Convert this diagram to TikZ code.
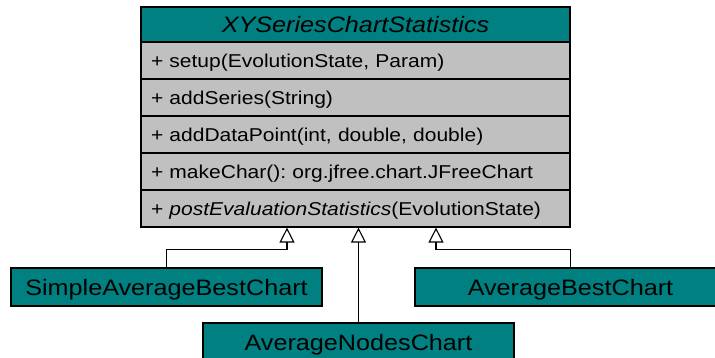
\documentclass[tikz,border=0pt]{standalone}
\usepackage{fontspec}
\setmainfont{Liberation Sans}[FakeStretch=1.13]
\usetikzlibrary{arrows.meta}
\definecolor{classteal}{RGB}{0,128,128}
\definecolor{rowgray}{RGB}{192,192,192}
\frenchspacing

\begin{document}
\begin{tikzpicture}[x=1pt,y=-1pt,
  head/.style={draw, fill=classteal, line width=1.2pt, minimum width=429pt, minimum height=35pt, inner sep=0pt,
    font=\fontsize{22.3}{26}\selectfont\itshape, text height=16pt, text depth=0pt},
  member/.style={draw, fill=rowgray, line width=1.2pt, minimum width=429pt, minimum height=37pt,
    inner xsep=10pt, inner ysep=0pt, text width=409pt, align=left,
    font=\fontsize{18.6}{22}\selectfont, text height=13.3pt, text depth=0pt},
  sub/.style={draw, fill=classteal, line width=1.2pt, minimum width=311pt, minimum height=38pt, inner sep=0pt,
    font=\fontsize{22.3}{26}\selectfont, text height=16pt, text depth=0pt},
  inherit/.style={-{Triangle[open, length=15pt, width=15pt]}, line width=1.1pt}]
  \useasboundingbox (0,0) rectangle (715,358);

  % Base class with its methods
  \node[head] (cls) at (355.5,24.5) {XYSeriesChartStatistics};
  \node[member] (setup) at (355.5,60.5) {+ setup(EvolutionState, Param)};
  \node[member] (series) at (355.5,97.5) {+ addSeries(String)};
  \node[member] (point) at (355.5,134.5) {+ addDataPoint(int, double, double)};
  \node[member] (chart) at (355.5,171.5) {+ makeChar(): org.jfree.chart.JFreeChart};
  \node[member] (post) at (355.5,208.5) {+ \textit{postEvaluationStatistics}(EvolutionState)};

  % Subclasses
  \node[sub] (simple) at (166.5,287) {SimpleAverageBestChart};
  \node[sub] (best) at (570.5,287) {AverageBestChart};
  \node[sub] (nodes) at (358.5,342) {AverageNodesChart};

  % Generalisation arrows
  \coordinate (k1) at ([xshift=-68.5pt]post.south);
  \coordinate (k3) at ([xshift=80.5pt]post.south);
  \draw[inherit] (simple.north) -- ++(0,-17.5) -| (k1);
  \draw[inherit] (nodes.north) -- (nodes.north |- post.south);
  \draw[inherit] (best.north) -- ++(0,-17.5) -| (k3);
\end{tikzpicture}
\end{document}
